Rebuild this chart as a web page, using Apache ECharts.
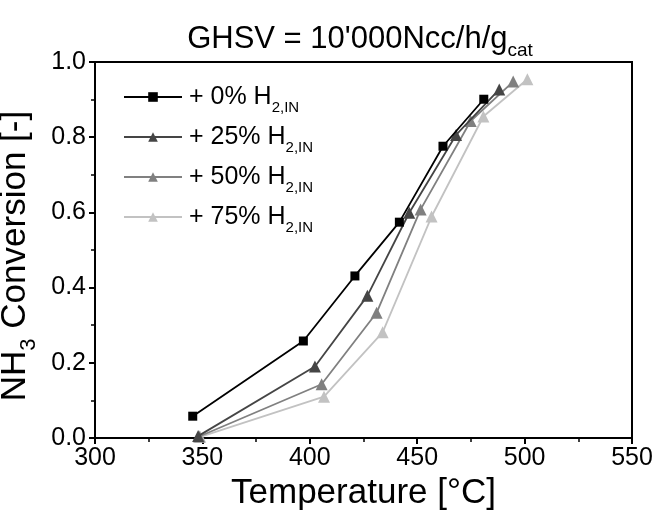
<!DOCTYPE html>
<html>
<head>
<meta charset="utf-8">
<script src="https://cdn.jsdelivr.net/npm/echarts@6/dist/echarts.min.js"></script>
<style>
html,body{margin:0;padding:0;background:#fff;}
#chart{width:656px;height:517px;}
</style>
</head>
<body>
<div id="chart"></div>
<script>
// ---- data ----
var seriesNames = ['+ 0% H2,IN', '+ 25% H2,IN', '+ 50% H2,IN', '+ 75% H2,IN'];
var legendLabels = ['+ 0% H{sub|2,IN}', '+ 25% H{sub|2,IN}', '+ 50% H{sub|2,IN}', '+ 75% H{sub|2,IN}'];
var temps0 = [345.5, 397.0, 421.0, 441.7, 462.0, 481.0];
var conv0  = [0.058, 0.258, 0.431, 0.574, 0.776, 0.901];
var temps25 = [348.0, 402.4, 426.8, 446.3, 468.1, 488.2];
var conv25  = [0.005, 0.190, 0.378, 0.599, 0.806, 0.927];
var temps50 = [348.5, 405.5, 431.1, 451.6, 474.9, 494.7];
var conv50  = [0.004, 0.143, 0.333, 0.608, 0.843, 0.948];
var temps75 = [349.0, 406.6, 433.9, 456.7, 480.8, 501.3];
var conv75  = [0.003, 0.110, 0.281, 0.589, 0.855, 0.954];
var xTicks = [300, 350, 400, 450, 500, 550];
var yTicks = [0.0, 0.2, 0.4, 0.6, 0.8, 1.0];

var titleText = "GHSV = 10'000Ncc/h/g{sub|cat}";
var xName = 'Temperature [°C]';
var yName = 'NH{sub|3} Conversion [-]';

// ---- styles ----
var FONT = "'Liberation Sans', Arial, sans-serif";
var colors = ['#000000', '#454545', '#808080', '#c2c2c2'];
var symbols = ['rect', 'triangle', 'triangle', 'triangle'];
var symbolSizes = [9, 12, 12, 12];
var allT = [temps0, temps25, temps50, temps75];
var allC = [conv0, conv25, conv50, conv75];

function zip(a, b) { return a.map(function (v, i) { return [v, b[i]]; }); }

var series = seriesNames.map(function (n, i) {
  return {
    name: n, type: 'line', data: zip(allT[i], allC[i]),
    symbol: symbols[i], symbolSize: symbolSizes[i],
    lineStyle: { color: colors[i], width: 1.8 },
    itemStyle: { color: colors[i] },
    emphasis: { disabled: true }, animation: false, z: 10 - i
  };
});

var legendRows = [97, 137, 177, 217];
var LEG_LH = 37;
var legends = seriesNames.map(function (n, i) {
  return {
    data: [n], orient: 'vertical', left: 123, top: legendRows[i] - LEG_LH / 2,
    itemWidth: 58, itemHeight: 12, padding: 0, selectedMode: false,
    formatter: function () { return legendLabels[i]; },
    textStyle: {
      fontFamily: FONT, fontSize: 25, color: '#000', lineHeight: LEG_LH,
      padding: [0, 0, 0, 2],
      rich: { sub: { fontFamily: FONT, fontSize: 15, color: '#000', lineHeight: 15, verticalAlign: 'bottom' } }
    }
  };
});

var chart = echarts.init(document.getElementById('chart'), null, { renderer: 'canvas' });
chart.setOption({
  animation: false,
  backgroundColor: '#fff',
  title: {
    text: titleText, left: 360, top: 19, textAlign: 'center', padding: 0,
    textStyle: {
      fontFamily: FONT, fontSize: 31, fontWeight: 'normal', color: '#000', lineHeight: 41,
      rich: { sub: { fontFamily: FONT, fontSize: 19, color: '#000', lineHeight: 19, verticalAlign: 'bottom' } }
    }
  },
  legend: legends,
  grid: {
    left: 95, right: 24, top: 62, bottom: 79, containLabel: false, outerBoundsMode: 'none',
    show: true, borderColor: '#000', borderWidth: 2, backgroundColor: 'transparent'
  },
  xAxis: {
    type: 'value', min: xTicks[0], max: xTicks[xTicks.length - 1], interval: 50,
    name: xName, nameLocation: 'middle', nameGap: 38,
    nameTextStyle: { fontFamily: FONT, fontSize: 35, color: '#000' },
    axisLine: { show: true, lineStyle: { color: '#000', width: 2 } },
    axisTick: { show: true, inside: false, length: 6, lineStyle: { color: '#000', width: 2 } },
    minorTick: { show: true, splitNumber: 2, length: 4, lineStyle: { color: '#000', width: 1.5 } },
    splitLine: { show: false },
    axisLabel: { fontFamily: FONT, fontSize: 25, color: '#000', margin: 8 }
  },
  yAxis: {
    type: 'value', min: yTicks[0], max: yTicks[yTicks.length - 1], interval: 0.2,
    name: yName, nameLocation: 'middle', nameGap: 40, nameRotate: 90,
    nameTextStyle: {
      fontFamily: FONT, fontSize: 35, color: '#000', lineHeight: 50, padding: [0, 12, 0, 0],
      rich: { sub: { fontFamily: FONT, fontSize: 22, color: '#000', lineHeight: 22, verticalAlign: 'bottom' } }
    },
    axisLine: { show: true, lineStyle: { color: '#000', width: 2 } },
    axisTick: { show: true, inside: false, length: 6, lineStyle: { color: '#000', width: 2 } },
    minorTick: { show: true, splitNumber: 2, length: 4, lineStyle: { color: '#000', width: 1.5 } },
    splitLine: { show: false },
    axisLabel: { fontFamily: FONT, fontSize: 25, color: '#000', margin: 9,
      formatter: function (v) { return v.toFixed(1); } }
  },
  series: series
});
</script>
</body>
</html>
